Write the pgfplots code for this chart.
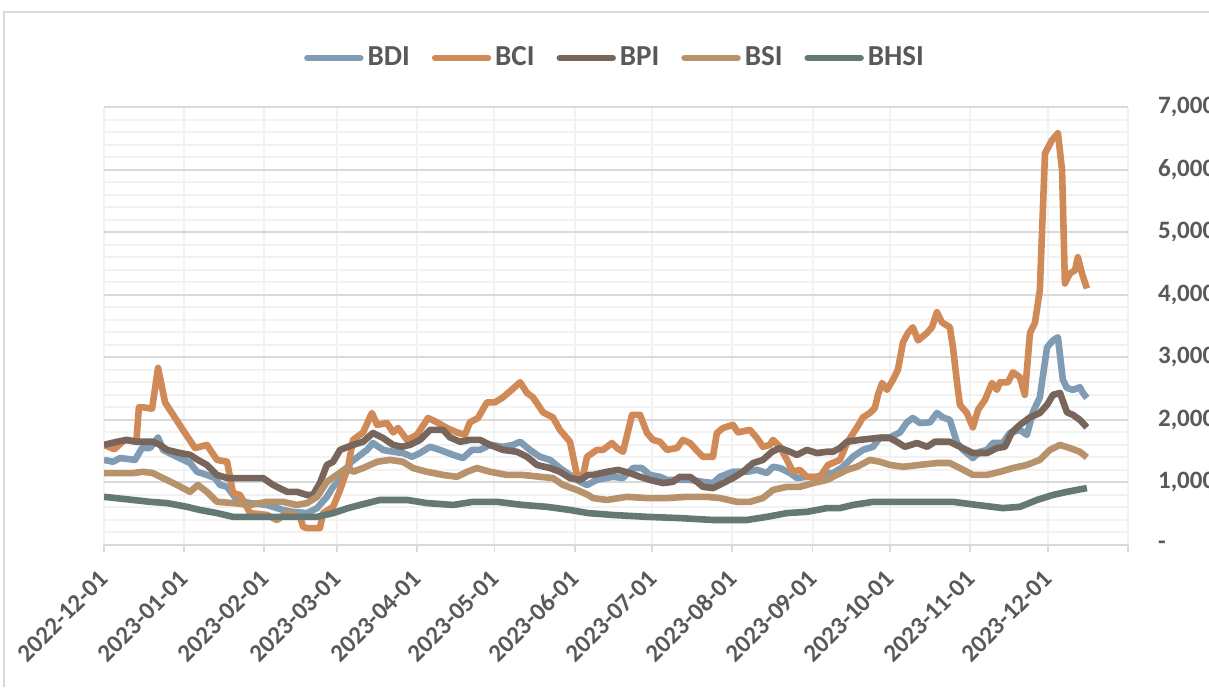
\documentclass[border=0pt]{standalone}
\usepackage{pgfplots}
\pgfplotsset{compat=1.18}
\usepackage{fontspec}
\setmainfont{Carlito}
\definecolor{cBDI}{HTML}{7F9CB4}
\definecolor{cBCI}{HTML}{D08A58}
\definecolor{cBPI}{HTML}{78665C}
\definecolor{cBSI}{HTML}{B8926A}
\definecolor{cBHSI}{HTML}{647876}
\definecolor{txt}{HTML}{595959}
\definecolor{gmaj}{HTML}{D9D9D9}
\definecolor{gmin}{HTML}{F2F2F2}
\begin{document}
\begin{tikzpicture}
\useasboundingbox (0,0) rectangle (604.5pt,343.5pt);
\fill[white] (0,0) rectangle (604.5pt,343.5pt);
\draw[gmaj, line width=0.9pt] (2pt,0) -- (2pt,337.5pt) -- (610pt,337.5pt);
\begin{axis}[
  at={(52pt,71pt)}, anchor=south west,
  scale only axis, width=512pt, height=219pt,
  xmin=0, xmax=396, ymin=0, ymax=7000,
  axis x line*=bottom, axis y line*=right,
  x axis line style={draw=gmaj, line width=0.9pt, -},
  y axis line style={draw=none},
  xtick={0,31,62,90,121,151,182,212,243,274,304,335,365,396},
  xticklabels={2022-12-01,2023-01-01,2023-02-01,2023-03-01,2023-04-01,2023-05-01,2023-06-01,2023-07-01,2023-08-01,2023-09-01,2023-10-01,2023-11-01,2023-12-01,},
  ytick={0,1000,...,7000},
  yticklabels={-,{1,000},{2,000},{3,000},{4,000},{5,000},{6,000},{7,000}},
  minor ytick={200,400,...,6800},
  xmajorgrids, ymajorgrids, yminorgrids,
  major x grid style={draw=gmin, line width=1pt},
  major y grid style={draw=gmaj, line width=1pt},
  minor y grid style={draw=gmin, line width=1pt},
  tick align=outside, major tick length=3.5pt, minor tick length=0pt,
  xtick style={draw=gmaj, line width=0.9pt},
  ytick style={draw=none},
  xticklabel style={font=\fontsize{12.5}{14}\selectfont\bfseries, text=txt, anchor=east, xshift=2.5pt, yshift=-9pt, rotate=45},
  yticklabel style={font=\fontsize{12.5}{14}\selectfont\bfseries, text=txt, anchor=west, xshift=8pt},
  legend style={at={(0.5,1.112)}, anchor=center, draw=none, fill=none,
    font=\fontsize{14.5}{16}\selectfont\bfseries, text=txt, legend columns=-1,
    /tikz/every even column/.append style={column sep=9pt}},
  legend image code/.code={\draw[#1, line width=3.3pt, line cap=round] (1.6pt,0pt) -- (28pt,0pt);},
  every axis plot/.append style={line width=3.3pt, line join=round, mark=none},
]
% BDI
\addplot[cBDI] coordinates {
(0,1360)(3.5,1330)(6.2,1390)(12,1360)(14.7,1550)(17.8,1550)(20.9,1720)(22.8,1520)(28.2,1410)(33.3,1310)(36,1170)(39.8,1120)(42.9,1070)(44.9,960)(47.6,930)(51.4,720)(56.5,670)(63,640)(69.2,560)(73.1,530)(78.5,510)(82.4,590)(86.2,770)(88.6,930)(91.3,1040)(94.4,1200)(95.1,1310)(98.2,1410)(101.7,1520)(104,1630)(107.9,1520)(111.8,1490)(115.6,1470)(119.1,1410)(122.2,1470)(126.1,1570)(129.9,1520)(135,1440)(138.8,1390)(142.3,1520)(145.4,1520)(149.3,1600)(154.3,1570)(158.2,1600)(160.9,1650)(164.7,1520)(168.6,1410)(172.5,1360)(176.3,1230)(180.2,1120)(184.1,1010)(186.8,960)(190.6,1040)(196.8,1090)(200.7,1070)(204.6,1230)(208,1230)(211.1,1120)(215,1090)(217.7,1040)(222.7,1040)(226.6,1040)(231.6,1010)(235.5,990)(238.2,1090)(243.2,1170)(248.6,1170)(252.5,1200)(256.4,1150)(258.7,1250)(261.4,1230)(265.3,1150)(268,1070)(271.8,1090)(275.7,1090)(279.6,1150)(281.9,1150)(285.8,1250)(289.6,1410)(293.5,1520)(297.4,1570)(300.1,1720)(303.9,1720)(307.8,1800)(310.5,1960)(312.8,2030)(315.5,1950)(319.4,1960)(322.1,2110)(324.4,2040)(327.1,2000)(329.9,1630)(332.2,1520)(336,1390)(338.7,1490)(341.5,1520)(343.8,1630)(347.6,1630)(350.3,1790)(354.2,1840)(356.9,1760)(359.2,2120)(361.9,2360)(364.7,3160)(367,3270)(368.9,3320)(370.8,2640)(372.4,2510)(374.7,2480)(377.4,2520)(378.6,2430)(380.1,2350)
};
\addlegendentry{BDI}
% BCI
\addplot[cBCI] coordinates {
(0,1600)(4,1530)(8,1680)(12.5,1650)(13.5,2200)(15.1,2200)(18.6,2180)(20.9,2830)(23.6,2280)(29.4,1910)(35.2,1550)(39.8,1600)(43.7,1360)(47.6,1330)(49.9,830)(52.6,800)(56.5,510)(63,480)(66.9,400)(70.8,510)(75.8,450)(77,290)(78.5,270)(83.5,270)(84.7,510)(88.6,610)(91.3,880)(94.4,1250)(96.3,1680)(100.2,1800)(103.6,2110)(105.6,1920)(109.4,1950)(111.8,1800)(113.7,1870)(117.2,1680)(121,1760)(125.3,2030)(128.8,1960)(132.6,1870)(136.5,1800)(139.6,1760)(141.5,1960)(144.6,2030)(148.1,2280)(151.2,2280)(154.3,2360)(158.2,2500)(160.9,2600)(163.6,2430)(165.9,2360)(169.8,2120)(173.6,2040)(176.3,1840)(180.2,1650)(182.9,1120)(185.2,1100)(186.8,1410)(190.6,1520)(193,1520)(196.4,1630)(198.4,1550)(200.7,1490)(204.2,2080)(207.3,2080)(210,1790)(212.3,1680)(215,1650)(217.7,1520)(221.6,1550)(223.9,1680)(226.6,1630)(229.7,1490)(231.6,1410)(235.5,1410)(237,1790)(239.4,1870)(243.2,1920)(245.2,1800)(249.8,1840)(252.5,1710)(254.8,1570)(257.5,1600)(258.7,1680)(261.4,1570)(264.1,1360)(266.4,1170)(269.1,1200)(271.8,1090)(274.2,1090)(276.9,1090)(280,1280)(284.6,1360)(287.3,1630)(291.2,1880)(293.5,2040)(296.2,2110)(298.1,2190)(299.3,2400)(300.9,2590)(302.8,2480)(305.1,2640)(307,2800)(309,3240)(310.9,3390)(312.8,3480)(314.8,3270)(318.3,3390)(320.2,3480)(322.1,3720)(324,3560)(327.1,3480)(328.3,3160)(329.9,2590)(331,2240)(333.7,2110)(336,1880)(338,2160)(340.7,2320)(341.8,2430)(343.4,2590)(345.3,2480)(346.5,2600)(349.6,2600)(351.5,2760)(354.2,2680)(356.1,2400)(358.1,3390)(360,3550)(361.9,4070)(363.9,6260)(366.6,6470)(368.9,6580)(370.5,5990)(371.6,4180)(373.5,4340)(375.5,4390)(376.6,4600)(378.2,4340)(380.1,4100)
};
\addlegendentry{BCI}
% BPI
\addplot[cBPI] coordinates {
(0,1600)(5,1650)(8.9,1680)(12.8,1650)(18.9,1650)(21.7,1600)(24.4,1520)(29.4,1470)(33.3,1440)(36.3,1360)(39.8,1280)(43.7,1120)(47.6,1070)(57.6,1070)(61.5,1070)(65.4,960)(70.8,850)(74.6,850)(78.5,800)(80.8,800)(83.5,990)(86.2,1280)(88.6,1330)(91.3,1520)(94.4,1570)(96.3,1600)(100.2,1650)(104,1790)(107.9,1710)(111.8,1600)(115.2,1570)(118.3,1600)(122.2,1680)(126.1,1840)(131.1,1840)(133.8,1720)(137.7,1650)(141.5,1680)(145.4,1680)(149.3,1600)(154.3,1520)(159.7,1490)(163.6,1410)(167.4,1280)(172.5,1230)(176.3,1170)(180.2,1070)(184.1,1040)(187.2,1120)(189.1,1120)(194.5,1170)(198.8,1200)(203.4,1150)(207.3,1090)(211.1,1040)(216.2,990)(220,1010)(222.7,1090)(226.6,1090)(229.3,1010)(231.6,930)(235.5,910)(239.4,990)(243.2,1070)(247.1,1170)(251,1310)(254.8,1360)(258.3,1490)(261.4,1550)(265.3,1490)(268,1440)(271.8,1520)(275.7,1470)(279.6,1490)(281.9,1490)(284.6,1550)(287.3,1650)(292.3,1680)(298.9,1710)(303.9,1710)(306.6,1650)(309.7,1570)(314.4,1630)(318.3,1570)(321.3,1650)(327.1,1650)(331,1570)(336,1470)(341.5,1470)(345.3,1550)(348.4,1570)(351.1,1800)(354.2,1920)(358.1,2040)(361.9,2110)(364.7,2240)(367,2400)(369.7,2430)(372.4,2120)(374.7,2080)(377.4,2000)(380.1,1880)
};
\addlegendentry{BPI}
% BSI
\addplot[cBSI] coordinates {
(0,1150)(11.2,1150)(15.1,1170)(18.9,1150)(22.8,1070)(28.2,960)(33.3,850)(36.3,960)(39.8,850)(43.7,690)(49.9,670)(56.5,640)(63,690)(69.2,690)(74.6,640)(78.5,670)(82.4,770)(86.2,1010)(90,1120)(94.4,1250)(96.3,1170)(100.2,1230)(105.6,1330)(110.6,1360)(115.6,1330)(119.5,1230)(124.9,1170)(131.1,1120)(136.5,1090)(140.4,1170)(144.2,1230)(149.3,1170)(155.8,1120)(162,1120)(168.6,1090)(173.6,1070)(177.5,960)(182.9,880)(187.2,800)(189.1,750)(194.5,720)(202.2,770)(210,750)(217.7,750)(225.4,770)(233.2,770)(238.2,750)(244.8,690)(249.8,690)(254.8,750)(258.7,880)(264.1,930)(269.1,930)(274.2,990)(279.6,1040)(281.9,1090)(287.3,1200)(291.2,1250)(296.2,1360)(300.1,1330)(303.9,1280)(309,1250)(315.5,1280)(322.1,1310)(327.1,1310)(331,1230)(336,1120)(341.5,1120)(346.5,1170)(351.5,1230)(356.9,1280)(361.9,1360)(365.8,1520)(369.7,1600)(373.5,1550)(377.4,1490)(380.1,1400)
};
\addlegendentry{BSI}
% BHSI
\addplot[cBHSI] coordinates {
(0,770)(11.2,720)(17.8,690)(24.4,670)(32.1,610)(37.1,560)(43.7,510)(49.9,450)(82.4,450)(88.6,510)(94.4,590)(99,640)(106.7,720)(117.2,720)(124.9,670)(135,640)(142.7,690)(152,690)(162,640)(171.3,610)(180.2,560)(187.2,510)(196.8,480)(210,450)(222.7,430)(235.5,400)(248.6,400)(256.4,450)(264.1,510)(271.8,530)(279.6,590)(284.6,590)(289.6,640)(297.4,690)(309,690)(328.3,690)(337.6,640)(347.6,590)(354.2,610)(360.8,720)(367,800)(372.4,850)(380.1,910)
};
\addlegendentry{BHSI}
\end{axis}
\end{tikzpicture}
\end{document}
